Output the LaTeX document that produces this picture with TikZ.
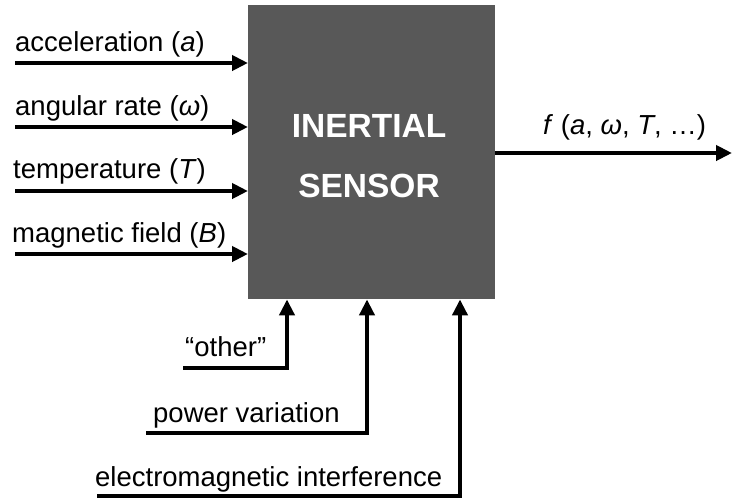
\documentclass[tikz,border=0pt]{standalone}
\usepackage{fontspec}
\setmainfont{Liberation Sans}
\usetikzlibrary{arrows.meta}
\begin{document}
\begin{tikzpicture}[x=1pt,y=-1pt,
  conn/.style={line width=4pt,-{Triangle[length=16pt,width=15pt]}},
  lbl/.style={anchor=base west,inner sep=0pt,font=\fontsize{27.5}{32}\selectfont},
  title/.style={anchor=base,inner sep=0pt,text=white,font=\bfseries\fontsize{33.5}{40}\selectfont}]
\useasboundingbox (0,0) rectangle (732,499);
\fill[fill=white] (0,0) rectangle (732,499);
\node[draw=none,fill={rgb,255:red,88;green,88;blue,88},minimum width=247pt,minimum height=294pt,anchor=north west,inner sep=0pt] (box) at (248,5) {};
\node[title] (t1) at (369,137) {INERTIAL};
\node[title] (t2) at (369,197) {SENSOR};
% inputs
\coordinate (a0) at (15,63);
\coordinate (w0) at (15,127);
\coordinate (T0) at (15,191);
\coordinate (B0) at (15,254);
\node[lbl] (la) at (15,51) {acceleration (\textit{a})};
\node[lbl] (lw) at (15,115) {angular rate (\textit{ω})};
\node[lbl] (lT) at (13,178) {temperature (\textit{T})};
\node[lbl] (lB) at (12,242) {magnetic field (\textit{B})};
\draw[conn] (a0) -- (box.west |- a0);
\draw[conn] (w0) -- (box.west |- w0);
\draw[conn] (T0) -- (box.west |- T0);
\draw[conn] (B0) -- (box.west |- B0);
% output
\coordinate (out) at (732,153);
\draw[conn] (box.east |- out) -- (out);
\node[lbl] (lf) at (543,134) {\textit{f} (\textit{a}, \textit{ω}, \textit{T}, …)};
% bottom inputs
\coordinate (o0) at (183,368);
\coordinate (o1) at (287,368);
\coordinate (p0) at (146,433);
\coordinate (p1) at (367,433);
\coordinate (e0) at (97,496);
\coordinate (e1) at (460,496);
\draw[conn] (o0) -- (o1) -- (box.south -| o1);
\draw[conn] (p0) -- (p1) -- (box.south -| p1);
\draw[conn] (e0) -- (e1) -- (box.south -| e1);
\node[lbl] (lo) at (185,356) {“other”};
\node[lbl] (lp) at (153,422) {power variation};
\node[lbl] (le) at (95,486) {electromagnetic interference};
\end{tikzpicture}
\end{document}
